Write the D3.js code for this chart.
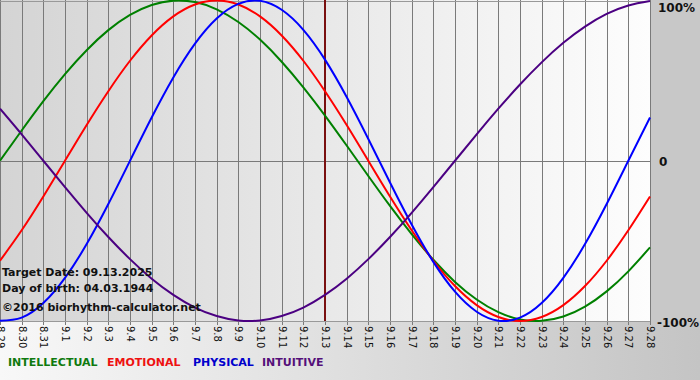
<!DOCTYPE html>
<html><head><meta charset="utf-8">
<script src="https://cdn.jsdelivr.net/npm/d3@7"></script>
<style>body{margin:0;background:#fff;overflow:hidden}</style>
</head><body><svg id="c" width="700" height="380"></svg>
<script>
const dates = ["8.29","8.30","8.31","9.1","9.2","9.3","9.4","9.5","9.6","9.7","9.8","9.9","9.10","9.11","9.12","9.13","9.14","9.15","9.16","9.17","9.18","9.19","9.20","9.21","9.22","9.23","9.24","9.25","9.26","9.27","9.28"];
const intellectual = [0,0.189,0.372,0.541,0.690,0.815,0.910,0.972,0.999,0.990,0.945,0.866,0.756,0.618,0.458,0.282,0.095,-0.095,-0.282,-0.458,-0.618,-0.756,-0.866,-0.945,-0.990,-0.999,-0.972,-0.910,-0.815,-0.690,-0.541];
const emotional = [-0.624,-0.434,-0.223,0,0.223,0.434,0.624,0.782,0.901,0.975,1,0.975,0.901,0.782,0.624,0.434,0.223,0,-0.223,-0.434,-0.624,-0.782,-0.901,-0.975,-1,-0.975,-0.901,-0.782,-0.624,-0.434,-0.223];
const physical = [-0.998,-0.979,-0.888,-0.731,-0.520,-0.270,0,0.270,0.520,0.731,0.888,0.979,0.998,0.942,0.817,0.631,0.398,0.136,-0.136,-0.398,-0.631,-0.817,-0.942,-0.998,-0.979,-0.888,-0.731,-0.520,-0.270,0,0.270];
const intuitive = [0.325,0.165,0,-0.165,-0.325,-0.476,-0.614,-0.736,-0.837,-0.916,-0.969,-0.997,-0.997,-0.969,-0.916,-0.837,-0.736,-0.614,-0.476,-0.325,-0.165,0,0.165,0.325,0.476,0.614,0.736,0.837,0.916,0.969,0.997];
const yTicks = [1,0,-1];
const yTickLabels = ["100%","0","-100%"];
const targetDate = "9.13";
const infoLines = ["Target Date: 09.13.2025","Day of birth: 04.03.1944","\u00a92016 biorhythm-calculator.net"];
const legendNames = ["INTELLECTUAL","EMOTIONAL","PHYSICAL","INTUITIVE"];

const series = [
  {name:"INTELLECTUAL", values:intellectual, color:"#008000", text:"#0f7a0f"},
  {name:"EMOTIONAL", values:emotional, color:"#ff0000", text:"#ee1111"},
  {name:"PHYSICAL", values:physical, color:"#0000ff", text:"#0000cc"},
  {name:"INTUITIVE", values:intuitive, color:"#4b0082", text:"#55107a"}
];

const svg = d3.select("#c");
const W = 700, H = 380, pL = 0, pR = 650, pT = 0, pB = 321;
const defs = svg.append("defs");
const g1 = defs.append("linearGradient").attr("id","bg").attr("x1","0").attr("x2","1").attr("y1","0").attr("y2","0");
g1.append("stop").attr("offset","0").attr("stop-color","#f8f8f8");
g1.append("stop").attr("offset","1").attr("stop-color","#c4c4c4");
const g2 = defs.append("linearGradient").attr("id","pl").attr("x1","0").attr("x2","1").attr("y1","0").attr("y2","0");
g2.append("stop").attr("offset","0").attr("stop-color","#d4d4d4");
g2.append("stop").attr("offset","1").attr("stop-color","#fdfdfd");

svg.append("rect").attr("width",W).attr("height",H).attr("fill","url(#bg)");
svg.append("rect").attr("x",650).attr("y",0).attr("width",50).attr("height",321).attr("fill","#c8c8c8");
svg.append("rect").attr("x",pL).attr("y",pT).attr("width",pR-pL).attr("height",pB-pT).attr("fill","url(#pl)");

const x = d3.scalePoint().domain(dates).range([pL, pR]);
const y = d3.scaleLinear().domain([-1,1]).range([pB, pT+0.5]);

const xAxis = d3.axisBottom(x).tickSize(pB-pT+4).tickSizeOuter(0);
const ax = svg.append("g").attr("transform",`translate(0,${pT})`).call(xAxis);
ax.select(".domain").remove();
ax.selectAll(".tick line").attr("stroke","#7a7a7a").attr("shape-rendering","crispEdges");
ax.selectAll(".tick text")
  .attr("transform", `translate(0,${pB-pT+5}) rotate(90)`)
  .attr("x",0).attr("y",0).attr("dy","0.35em").attr("text-anchor","start")
  .attr("font-family","DejaVu Sans, Verdana, sans-serif").attr("font-size","10px").attr("fill","#111");

svg.append("g").selectAll("line").data(yTicks).join("line")
  .attr("x1",pL).attr("x2",pR).attr("y1",d=>Math.round(y(d))+0.5).attr("y2",d=>Math.round(y(d))+0.5)
  .attr("stroke",d=>d===0?"#7a7a7a":"#999").attr("stroke-width",1);

svg.append("line").attr("x1",x(targetDate)).attr("x2",x(targetDate)).attr("y1",pT).attr("y2",pB)
  .attr("stroke","#7a1010").attr("stroke-width",2);

const line = d3.line().x((d,i)=>x(dates[i])).y(d=>y(d)).curve(d3.curveNatural);
svg.append("g").selectAll("path").data(series).join("path")
  .attr("d",d=>line(d.values)).attr("fill","none").attr("stroke",d=>d.color).attr("stroke-width",2);

svg.append("g").selectAll("text").data(infoLines).join("text")
  .attr("x",2).attr("y",(d,i)=>[276,292,311][i]).text(d=>d)
  .attr("font-family","DejaVu Sans, Verdana, sans-serif").attr("font-weight","bold").attr("font-size","11px").attr("fill","#111");

svg.append("g").selectAll("text").data(yTicks).join("text")
  .attr("x",(d,i)=>[658,659,657][i]).attr("y",(d,i)=>[12,166,327][i])
  .text((d,i)=>yTickLabels[i])
  .attr("font-family","DejaVu Sans, Verdana, sans-serif").attr("font-weight","bold").attr("font-size","12px").attr("fill","#111");

const lx = [8,107,193,262];
svg.append("g").selectAll("text").data(series).join("text")
  .attr("x",(d,i)=>lx[i]).attr("y",366).text((d,i)=>legendNames[i])
  .attr("font-family","DejaVu Sans, Verdana, sans-serif").attr("font-weight","bold").attr("font-size","11px").attr("fill",d=>d.text);
</script></body></html>
